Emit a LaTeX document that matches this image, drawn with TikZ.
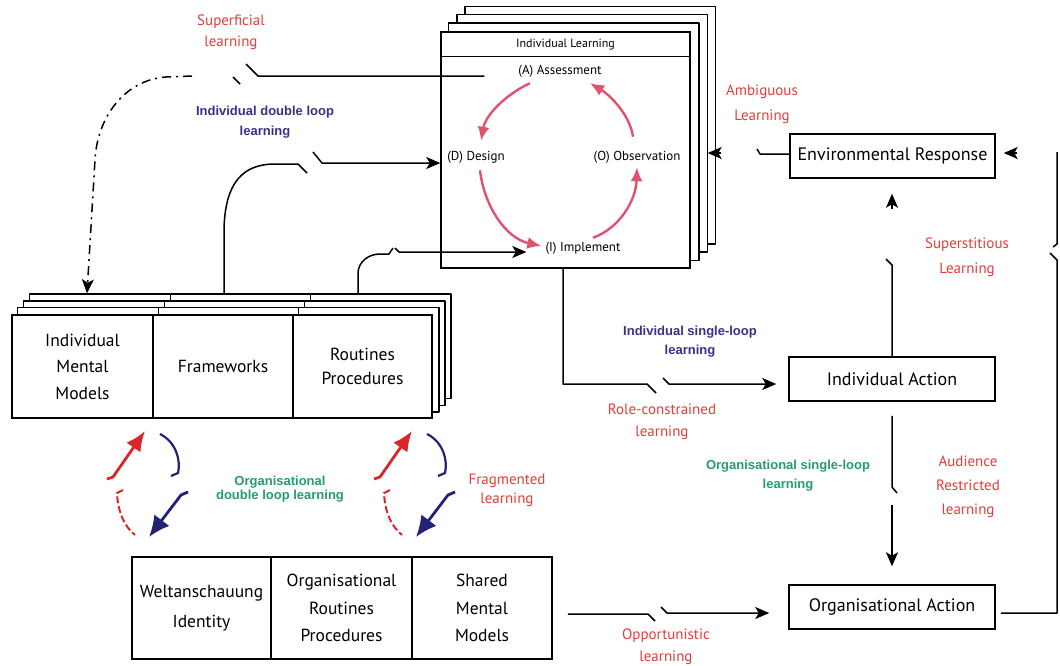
\documentclass[tikz,border=0pt]{standalone}
\usepackage{fontspec}
\setmainfont{PT Sans}
\newfontfamily\lblsans{Liberation Sans}
\usetikzlibrary{arrows.meta,calc,backgrounds}
\definecolor{lblred}{RGB}{226,62,58}
\definecolor{lblblue}{RGB}{58,48,138}
\definecolor{lblgreen}{RGB}{36,158,108}
\definecolor{cyclepink}{RGB}{226,82,112}
\definecolor{loopred}{RGB}{218,38,38}
\definecolor{loopnavy}{RGB}{36,34,118}
\newcommand\fsz[2]{\fontsize{#1}{#2}\selectfont}

\begin{document}
\begin{tikzpicture}[x=1pt,y=-1pt,
  box/.style={draw, line width=1.5pt, fill=white, inner sep=0pt, align=center},
  ln/.style={line width=1.5pt, line join=round},
  arr/.style={ln, -{Stealth[length=14pt,width=12pt,inset=3.5pt]}},
  redlbl/.style={text=lblred, align=center, font=\fsz{15}{21}},
  bluelbl/.style={text=lblblue, align=center, font=\lblsans\bfseries\fsz{13}{20}},
  greenlbl/.style={text=lblgreen, align=center, font=\lblsans\bfseries\fsz{13}{19}},
  cyc/.style={font=\fsz{13}{15}, inner sep=1pt},
  pinkarr/.style={cyclepink, line width=2.4pt, -{Latex[length=14pt,width=12pt]}},
  bigred/.style={loopred, line width=2.8pt, -{Latex[length=20pt,width=17pt]}},
  bignavy/.style={loopnavy, line width=2.8pt, -{Latex[length=21pt,width=19pt]}},
  thinnavy/.style={loopnavy, line width=2.2pt},
  dashred/.style={loopred, line width=2pt, dash pattern=on 7pt off 3pt},
  bxtxt/.style={font=\fsz{17.5}{#1}},
  bxtxt/.default=26
]
\useasboundingbox (0,0) rectangle (1060,665);

% ---------- individual learning cycle ----------
\node[box, minimum width=249pt, minimum height=236pt] (il) at (565.5,150) {};
\draw[ln] ($(il.north west)+(0,25)$) -- ($(il.north east)+(0,25)$);
\node[font=\fsz{12}{14}] (ilt) at ($(il.north)+(0,13)$) {Individual Learning};

\node[cyc] (ass) at (560,71) {(A) Assessment};
\node[cyc] (des) at (476,157) {(D) Design};
\node[cyc] (obs) at (637,157) {(O) Observation};
\node[cyc] (imp) at (583,248) {(I) Implement};

\draw[pinkarr] ($(ass.south)+(-30,5)$) .. controls (510,92) and (486,113) .. ($(des.north)+(5,-9)$);
\draw[pinkarr] ($(des.south)+(4,6)$) .. controls (484,205) and (505,238) .. ($(imp.west)+(-3,-2)$);
\draw[pinkarr] ($(imp.north)+(10,-3)$) .. controls (620,228) and (636,200) .. ($(obs.south)+(0,3)$);
\draw[pinkarr] ($(obs.north)+(-4,-13)$) .. controls (630,115) and (610,95) .. ($(ass.south)+(30,5)$);

% ---------- individual frames (stacked) ----------
\node[box, minimum width=141pt, minimum height=103pt, bxtxt=26.5] (imm) at (82.5,366.5) {Individual\\Mental\\Models};
\node[box, minimum width=140pt, minimum height=103pt, bxtxt] (fw) at (223,366.5) {Frameworks};
\node[box, minimum width=139pt, minimum height=103pt, bxtxt=24] (rp) at (362.5,366.5) {Routines\\Procedures};

% ---------- organisational frames ----------
\node[box, minimum width=139pt, minimum height=102pt, bxtxt=30] (wi) at (201.5,608) {Weltanschauung\\Identity};
\node[box, minimum width=141pt, minimum height=102pt, bxtxt=27.5] (orp) at (341.5,608) {Organisational\\Routines\\Procedures};
\node[box, minimum width=140pt, minimum height=102pt, bxtxt=27.5] (smm) at (482,608) {Shared\\Mental\\Models};

% ---------- actions and response ----------
\node[box, minimum width=205pt, minimum height=44pt, font=\fsz{18}{20}] (er) at (892.5,156) {Environmental Response};
\node[box, minimum width=206pt, minimum height=44pt, font=\fsz{18}{20}] (ia) at (892,379) {Individual Action};
\node[box, minimum width=206pt, minimum height=44pt, font=\fsz{18}{20}] (oa) at (892,607) {Organisational Action};

% stacked copies behind the front frames
\begin{scope}[on background layer]
  \fill[white] (0,0) rectangle (1060,665);
  \foreach \k in {3,2,1}
    \draw[ln, fill=white] ($(il.south west)+(8.3*\k,-8.3*\k)$) rectangle ($(il.north east)+(8.3*\k,-8.3*\k)$);
  \foreach \k in {3,2,1}
    \foreach \b in {imm,fw,rp}
      \draw[ln, fill=white] ($(\b.south west)+(6*\k,-6.7*\k)$) rectangle ($(\b.north east)+(6*\k,-6.7*\k)$);
\end{scope}

% ---------- connectors ----------
% superficial learning
\coordinate (sfa) at ($(il.west)+(44,-74)$);
\draw[ln] (sfa) -- (258,76) -- (246,64);
\draw[ln] (240,84) -- (233,77);
\draw[ln, dash pattern=on 9pt off 5pt on 2pt off 5pt, -{Stealth[length=14pt,width=12pt,inset=3.5pt]}]
  (192,76) -- (166,77) .. controls (124,80) and (97,118) .. (95,160) -- ($(imm.north)+(4.5,-21)$);

% individual double loop learning
\draw[ln] ($(fw.north)+(1,-20)$) -- (224,233) .. controls (224,180) and (245,164) .. (275,164) -- (298,164) -- (307,173);
\draw[arr] (313,152) -- (322,163) -- ($(il.west)+(0,13)$);

% routines to implementation
\draw[ln] ($(rp.north)+(-4.5,-20)$) -- (358,272) .. controls (359,262) and (368,254) .. (380,254) -- (389,254) -- (393,248);
\draw[arr] (395,248) -- (399,252) -- ($(imp.west)+(-18,4)$);

% individual single-loop learning
\draw[ln] ($(il.south)+(-2.5,0)$) -- (563,384) -- (647,384) -- (656,393);
\draw[arr] (663,378) -- (669,384) -- ($(ia.west)+(-12,5)$);

% organisational single-loop learning
\draw[ln] ($(ia.south)+(0,14)$) -- (892,487) -- (897,493);
\draw[arr] (892,505) -- ($(oa.north)+(0,-18)$);

% opportunistic learning
\draw[ln] ($(smm.east)+(15,6)$) -- (648,614) -- (655,621);
\draw[arr] (661,607) -- (667,613) -- ($(oa.west)+(-19,6)$);

% organisational action back to the environment
\draw[ln] ($(oa.east)+(5,6)$) -- (1057,613) -- (1057,260) -- (1050,253);
\draw[ln] (1053,247) -- (1057,244) -- (1057,152);
\draw[arr] (1017,153) -- ($(er.east)+(8,-3)$);

% superstitious learning
\draw[ln] (ia.north) -- (892,265) -- (886,259);
\draw[arr] (892,209) -- ($(er.south)+(-0.5,15)$);

% ambiguous learning
\draw[ln] ($(er.west)+(0,-2)$) -- (760,154) -- (757,149);
\draw[arr] (721,153) -- ($(il.east)+(17,3)$);

% ---------- double loop cycles between the frames ----------
\foreach \dx in {0,267} {
  \begin{scope}[xshift=\dx]
    \draw[bigred] (107,479) -- (113,477) -- (145,431);
    \draw[thinnavy] (160,434) .. controls (176,442) and (181,460) .. (178,473) -- (171,476);
    \draw[bignavy] (188,492) -- (181,495) -- (149,537);
    \draw[dashred] (123,490) -- (117,493) .. controls (118,512) and (124,526) .. (135,535);
  \end{scope}
}

% ---------- labels ----------
\node[redlbl] (lsup) at (231,32) {Superficial\\learning};
\node[bluelbl] (lidl) at (265,122) {Individual double loop\\learning};
\node[redlbl, font=\fsz{15}{25}] (lamb) at (762,104) {Ambiguous\\Learning};
\node[redlbl, font=\fsz{15}{25}] (lsst) at (967,257) {Superstitious\\Learning};
\node[bluelbl, font=\lblsans\bfseries\fsz{13}{19}] (lisl) at (690,342) {Individual single-loop\\learning};
\node[redlbl, font=\fsz{15}{22}] (lrc) at (662,422) {Role-constrained\\learning};
\node[greenlbl] (losl) at (788,476) {Organisational single-loop\\learning};
\node[redlbl, font=\fsz{15}{24}] (lar) at (968,487) {Audience\\Restricted\\learning};
\node[redlbl, font=\fsz{15}{22}] (lopp) at (666,647) {Opportunistic\\learning};
\node[greenlbl, font=\lblsans\bfseries\fsz{13}{14}] (lodl) at (280,489) {Organisational\\double loop learning};
\node[redlbl, font=\fsz{15}{19}] (lfrag) at (507,490) {Fragmented\\learning};
\end{tikzpicture}
\end{document}
